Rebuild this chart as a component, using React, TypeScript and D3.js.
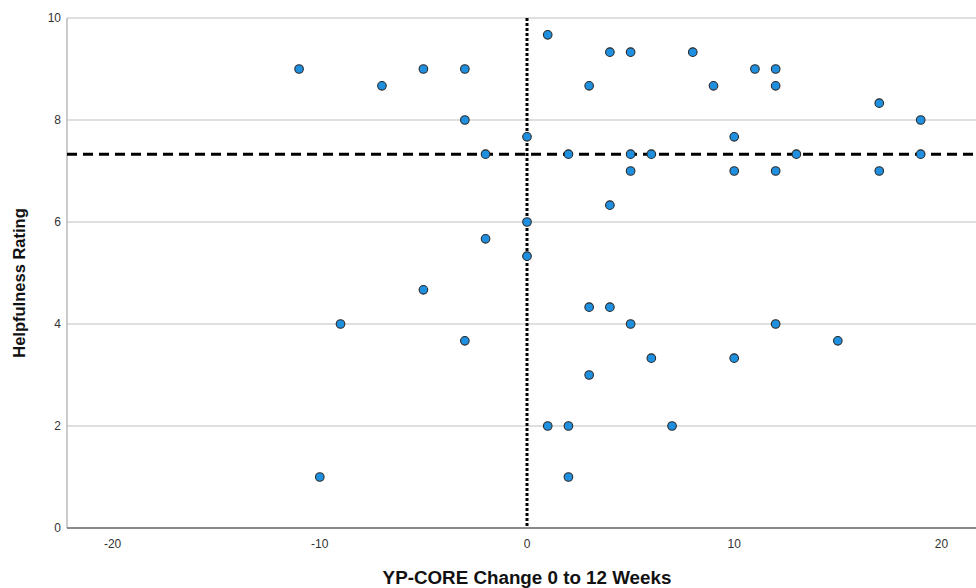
import React, { useEffect, useRef } from "react";
import * as d3 from "d3";

// YP-CORE change (0 to 12 weeks) vs helpfulness rating
const changeScores = [
  -11, -7, -5, -3, -3, -2, 0, 1, 3, 4, 5, 8, 9, 11, 12, 12, 17, 19, 19, 17,
  13, 12, 10, 10, 2, 5, 6, 5, 4, 0, -2, 0, -5, -9, -3, 3, 4, 5, 6, 3, 12, 10,
  15, 1, 2, 7, 2, -10,
];
const helpfulness = [
  9, 8.67, 9, 9, 8, 7.33, 7.67, 9.67, 8.67, 9.33, 9.33, 9.33, 8.67, 9, 9, 8.67,
  8.33, 8, 7.33, 7, 7.33, 7, 7.67, 7, 7.33, 7.33, 7.33, 7, 6.33, 6, 5.67, 5.33,
  4.67, 4, 3.67, 4.33, 4.33, 4, 3.33, 3, 4, 3.33, 3.67, 2, 2, 2, 1, 1,
];
const xTicks = [-20, -10, 0, 10, 20];
const yTicks = [0, 2, 4, 6, 8, 10];
const meanRating = 7.33;
const zeroChange = 0;

const W = 976;
const H = 588;

const App = () => {
  const svgRef = useRef<SVGSVGElement | null>(null);

  useEffect(() => {
    const svg = d3.select(svgRef.current);
    svg.selectAll("*").remove();

    const left = 67,
      top = 18,
      bottom = 528;

    const x = d3.scaleLinear().domain([-22.2, 22.2]).range([left, left + 2 * 460]);
    const y = d3.scaleLinear().domain([0, 10]).range([bottom, top]);

    const g = svg.append("g");

    // gridlines
    g.selectAll("line.grid")
      .data(yTicks.filter((d) => d > 0))
      .join("line")
      .attr("class", "grid")
      .attr("x1", left)
      .attr("x2", W)
      .attr("y1", (d) => y(d))
      .attr("y2", (d) => y(d))
      .attr("stroke", "#d4d4d4")
      .attr("stroke-width", 1.3);

    // axes lines
    g.append("line")
      .attr("x1", left)
      .attr("x2", left)
      .attr("y1", top)
      .attr("y2", bottom)
      .attr("stroke", "#b0b0b0")
      .attr("stroke-width", 1.3);
    g.append("line")
      .attr("x1", left)
      .attr("x2", W)
      .attr("y1", bottom)
      .attr("y2", bottom)
      .attr("stroke", "#8a8a8a")
      .attr("stroke-width", 2);

    // tick labels
    g.selectAll("text.ylab")
      .data(yTicks)
      .join("text")
      .attr("class", "ylab")
      .attr("x", left - 6)
      .attr("y", (d) => y(d) + 4)
      .attr("text-anchor", "end")
      .attr("font-family", "Liberation Sans, Arial, sans-serif")
      .attr("font-size", 12)
      .attr("fill", "#333")
      .text((d) => d);

    g.selectAll("text.xlab")
      .data(xTicks)
      .join("text")
      .attr("class", "xlab")
      .attr("x", (d) => x(d))
      .attr("y", bottom + 20)
      .attr("text-anchor", "middle")
      .attr("font-family", "Liberation Sans, Arial, sans-serif")
      .attr("font-size", 12)
      .attr("fill", "#333")
      .text((d) => d);

    // reference lines
    g.append("line")
      .attr("x1", x(zeroChange))
      .attr("x2", x(zeroChange))
      .attr("y1", top)
      .attr("y2", bottom)
      .attr("stroke", "#000")
      .attr("stroke-width", 3)
      .attr("stroke-dasharray", "3,2");
    g.append("line")
      .attr("x1", left)
      .attr("x2", W)
      .attr("y1", y(meanRating))
      .attr("y2", y(meanRating))
      .attr("stroke", "#000")
      .attr("stroke-width", 3)
      .attr("stroke-dasharray", "10,6");

    // points
    g.selectAll("circle")
      .data(changeScores.map((c, i) => [c, helpfulness[i]]))
      .join("circle")
      .attr("cx", (d) => x(d[0]))
      .attr("cy", (d) => y(d[1]))
      .attr("r", 4.3)
      .attr("fill", "#1f8fe0")
      .attr("stroke", "#2a2a2a")
      .attr("stroke-width", 1.1);

    // axis titles
    g.append("text")
      .attr("x", x(0))
      .attr("y", 584)
      .attr("text-anchor", "middle")
      .attr("font-family", "Liberation Sans, Arial, sans-serif")
      .attr("font-weight", "bold")
      .attr("font-size", 18.8)
      .attr("fill", "#111")
      .text("YP-CORE Change 0 to 12 Weeks");

    g.append("text")
      .attr("transform", `translate(25,283) rotate(-90)`)
      .attr("text-anchor", "middle")
      .attr("font-family", "Liberation Sans, Arial, sans-serif")
      .attr("font-weight", "bold")
      .attr("font-size", 16.5)
      .attr("fill", "#111")
      .text("Helpfulness Rating");
  }, []);

  return (
    <svg
      ref={svgRef}
      width={W}
      height={H}
      style={{ position: "absolute", left: 0, top: 0, background: "#fff" }}
    />
  );
};

export default App;
